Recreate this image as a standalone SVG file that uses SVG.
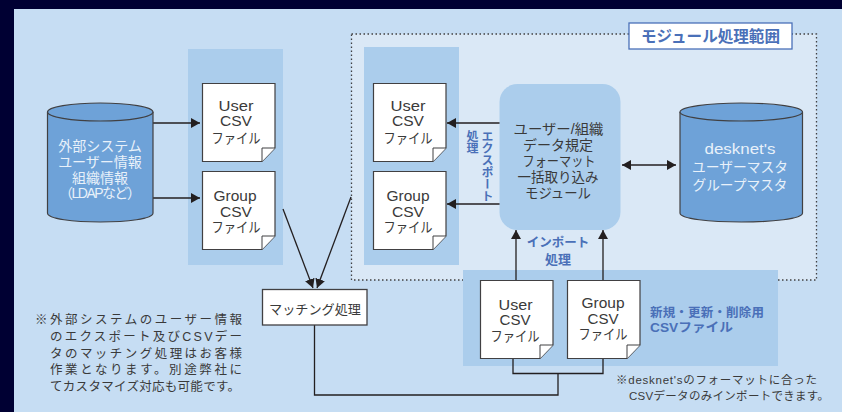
<svg xmlns="http://www.w3.org/2000/svg" width="842" height="412" viewBox="0 0 842 412">
<defs>
<marker id="a" markerUnits="userSpaceOnUse" markerWidth="12" markerHeight="12" refX="9" refY="5" orient="auto-start-reverse"><path d="M0 0L9 5L0 10Z" fill="#231f20"/></marker>
<path id="doc" d="M0.500 0.500H73V65L60 78.500H0.500Z" fill="#fff" stroke="#414042" stroke-width="1.200"/>
<path id="fold" d="M60 78.500V65H73" fill="#fff" stroke="#414042" stroke-width="1"/>
</defs>
<style>
text{font-family:"Liberation Sans","Noto Sans CJK JP",sans-serif;text-anchor:middle}
.d{font-size:14px;fill:#3a3a3a}
.w{font-size:14px;fill:#e8f1fa}
.b{font-size:12.500px;fill:#4a70b8;font-weight:500}
.n{font-size:12.500px;fill:#3a3a3a;text-anchor:start}
.c{fill:none;stroke:#231f20;stroke-width:1.300}
.ar{marker-end:url(#a)}
.cyl{fill:#6ea2d8;stroke:#414042;stroke-width:1.200}
.p{fill:#abcdec}
</style>
<rect width="842" height="412" fill="#000033"/>
<rect x="14" y="9" width="828" height="403" fill="#c6ddf3"/>

<g id="module-range">
<rect x="351.500" y="34" width="465" height="246" fill="#dae8f6" stroke="#414042" stroke-width="1.300" stroke-dasharray="1.500 2.500"/>
</g>
<g id="panels">
<rect class="p" x="188" y="49" width="95" height="216"/>
<rect class="p" x="364" y="47" width="95" height="218"/>
<rect class="p" x="463" y="270" width="315" height="96"/>
</g>

<g id="connectors">
<path class="c ar" d="M153 123H200"/>
<path class="c ar" d="M153 198H200"/>
<path class="c ar" d="M283 209L313 288"/>
<path class="c ar" d="M351 197L317 288"/>
<path class="c ar" d="M500 123H447"/>
<path class="c ar" d="M500 204H447"/>
<path class="c" d="M622 165H676" marker-start="url(#a)" marker-end="url(#a)"/>
<path class="c ar" d="M516 280V230"/>
<path class="c ar" d="M603 280V230"/>
<path class="c" d="M513 359V373.500H603V359M558 373.500V395H314.500V325"/>
</g>

<g id="ext-db">
<path class="cyl" d="M47.500 112V213C47.500 225 153 225 153 213V112"/>
<ellipse class="cyl" cx="100.250" cy="112" rx="52.750" ry="9"/>
<text class="w" x="100" y="151">外部システム</text>
<text class="w" x="100" y="167">ユーザー情報</text>
<text class="w" x="100" y="183">組織情報</text>
<text class="w" x="100" y="198" textLength="82">（LDAPなど）</text>
</g>

<g id="ext-user-csv"><use href="#doc" x="202" y="83"/><use href="#fold" x="202" y="83"/>
<text class="d" x="236" y="111" textLength="35" lengthAdjust="spacingAndGlyphs">User</text><text class="d" x="236" y="126" textLength="32" lengthAdjust="spacingAndGlyphs">CSV</text><text class="d" x="236" y="143" textLength="49" lengthAdjust="spacingAndGlyphs">ファイル</text></g>
<g id="ext-group-csv"><use href="#doc" x="202" y="171"/><use href="#fold" x="202" y="171"/>
<text class="d" x="235" y="201" textLength="43" lengthAdjust="spacingAndGlyphs">Group</text><text class="d" x="236" y="217" textLength="32" lengthAdjust="spacingAndGlyphs">CSV</text><text class="d" x="236" y="232" textLength="49" lengthAdjust="spacingAndGlyphs">ファイル</text></g>

<g id="mod-user-csv"><use href="#doc" x="373" y="83"/><use href="#fold" x="373" y="83"/>
<text class="d" x="408" y="111" textLength="35" lengthAdjust="spacingAndGlyphs">User</text><text class="d" x="408" y="126" textLength="32" lengthAdjust="spacingAndGlyphs">CSV</text><text class="d" x="408" y="143" textLength="49" lengthAdjust="spacingAndGlyphs">ファイル</text></g>
<g id="mod-group-csv"><use href="#doc" x="373" y="171"/><use href="#fold" x="373" y="171"/>
<text class="d" x="408" y="201" textLength="43" lengthAdjust="spacingAndGlyphs">Group</text><text class="d" x="408" y="217" textLength="32" lengthAdjust="spacingAndGlyphs">CSV</text><text class="d" x="408" y="232" textLength="49" lengthAdjust="spacingAndGlyphs">ファイル</text></g>

<g id="import-module">
<rect x="499.500" y="84" width="121" height="146" rx="18" fill="#abcdec"/>
<text class="d" x="558.500" y="133.500" textLength="90" lengthAdjust="spacingAndGlyphs">ユーザー/組織</text>
<text class="d" x="558" y="149.500">データ規定</text>
<text class="d" x="559" y="165.500" textLength="73" lengthAdjust="spacingAndGlyphs">フォーマット</text>
<text class="d" x="558" y="181.500" textLength="81" lengthAdjust="spacingAndGlyphs">一括取り込み</text>
<text class="d" x="558" y="197.500" textLength="66" lengthAdjust="spacingAndGlyphs">モジュール</text>
</g>

<g id="desknet-db">
<path class="cyl" d="M680 112V213C680 225 802.500 225 802.500 213V112"/>
<ellipse class="cyl" cx="741.250" cy="112" rx="61.250" ry="9"/>
<text class="w" x="740" y="154" textLength="71" lengthAdjust="spacingAndGlyphs">desknet's</text>
<text class="w" x="740" y="172" textLength="96" lengthAdjust="spacingAndGlyphs">ユーザーマスタ</text>
<text class="w" x="740" y="190" textLength="95" lengthAdjust="spacingAndGlyphs">グループマスタ</text>
</g>

<g id="range-label">
<rect x="629" y="23" width="163" height="26" fill="#fff" stroke="#4a70b8" stroke-width="1.300"/>
<text x="710.500" y="41.500" style="font-size:15.500px;fill:#4a70b8;font-weight:700" textLength="139" lengthAdjust="spacingAndGlyphs">モジュール処理範囲</text>
</g>

<g id="export-label">
<text class="b" style="writing-mode:vertical-rl;text-anchor:start;font-size:12px;font-weight:700" x="486" y="130">エクスポート</text>
<text class="b" style="writing-mode:vertical-rl;text-anchor:start;font-size:12px;font-weight:700" x="471" y="130">処理</text>
</g>
<g id="import-label">
<text class="b" x="558" y="247" style="font-weight:700">インポート</text>
<text class="b" x="558" y="264" style="font-size:13px;font-weight:700">処理</text>
</g>

<g id="matching">
<rect x="262.500" y="289.500" width="104.500" height="35.500" fill="#fff" stroke="#414042" stroke-width="1.300"/>
<text x="315" y="313.500" style="font-size:13px;fill:#3a3a3a" textLength="92" lengthAdjust="spacingAndGlyphs">マッチング処理</text>
</g>

<g id="imp-user-csv"><use href="#doc" x="480" y="280"/><use href="#fold" x="480" y="280"/>
<text class="d" x="515.500" y="310" textLength="34" lengthAdjust="spacingAndGlyphs">User</text><text class="d" x="515" y="325" textLength="31" lengthAdjust="spacingAndGlyphs">CSV</text><text class="d" x="515" y="341" textLength="49" lengthAdjust="spacingAndGlyphs">ファイル</text></g>
<g id="imp-group-csv"><use href="#doc" x="567" y="280"/><use href="#fold" x="567" y="280"/>
<text class="d" x="603" y="308" textLength="43" lengthAdjust="spacingAndGlyphs">Group</text><text class="d" x="603" y="324" textLength="31" lengthAdjust="spacingAndGlyphs">CSV</text><text class="d" x="603" y="339" textLength="49" lengthAdjust="spacingAndGlyphs">ファイル</text></g>

<text class="b" x="650" y="317" style="text-anchor:start;font-weight:700" textLength="114">新規・更新・削除用</text>
<text class="b" x="650" y="332" style="text-anchor:start;font-weight:700" textLength="83" lengthAdjust="spacingAndGlyphs">CSVファイル</text>

<g id="notes">
<text class="n" x="35" y="324" textLength="207">※外部システムのユーザー情報</text>
<text class="n" x="50" y="341" textLength="192">のエクスポート及びCSVデー</text>
<text class="n" x="50" y="357.500" textLength="192">タのマッチング処理はお客様</text>
<text class="n" x="50" y="374" textLength="192">作業となります。別途弊社に</text>
<text class="n" x="50" y="391" textLength="190">てカスタマイズ対応も可能です。</text>
<text class="n" x="616" y="384" style="font-size:11.500px" textLength="201">※desknet'sのフォーマットに合った</text>
<text class="n" x="629" y="400" style="font-size:11.500px" textLength="200">CSVデータのみインポートできます。</text>
</g>
</svg>
